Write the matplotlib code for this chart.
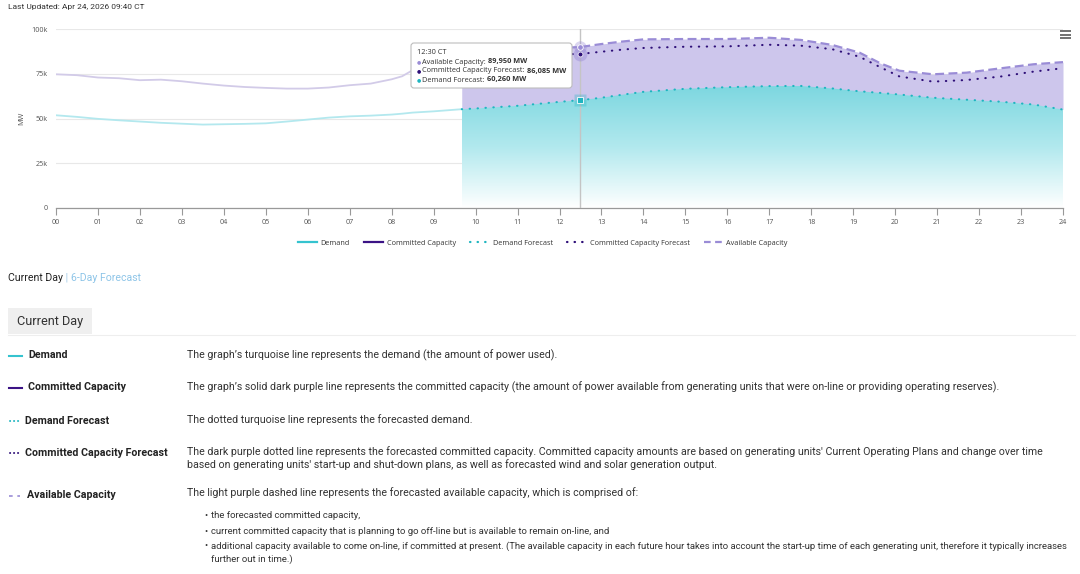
import numpy as np
import matplotlib
matplotlib.use("Agg")
import matplotlib.pyplot as plt
from matplotlib.colors import LinearSegmentedColormap
from matplotlib.lines import Line2D
from matplotlib.patches import FancyBboxPatch, Rectangle

# ---------------- data ----------------
hist_hours = [0, 0.5, 1, 1.5, 2, 2.5, 3, 3.5, 4, 4.5, 5, 5.5, 6, 6.5, 7, 7.5, 8, 8.25, 8.5, 9, 9.67]
hist_demand = [51800, 50900, 49800, 49000, 48300, 47600, 47100, 46600, 46800, 47000, 47300,
               48300, 49400, 50500, 51200, 51600, 52200, 52700, 53300, 54000, 55200]
hist_avail = [74700, 74200, 72900, 72500, 71400, 71700, 70800, 69500, 68400, 67600, 67100,
              66700, 66700, 67300, 68600, 69500, 71900, 73600, 77000, 81000, 85000]

fc_hours = [9.67, 10, 11, 12, 12.5, 13, 13.5, 14, 15, 16, 17, 17.75, 18.5, 19.15, 19.65,
            20.1, 20.9, 21.7, 22.5, 23.3, 24]
fc_avail = [85000, 86000, 88000, 89400, 89950, 91600, 93000, 94200, 94400, 94400, 95100,
            93900, 91100, 86800, 80800, 76700, 74700, 75600, 78000, 80300, 81500]
fc_committed = [83000, 83500, 84800, 85800, 86085, 87300, 88500, 89400, 90100, 90300, 91200,
                90700, 88700, 84500, 78600, 73500, 70600, 71500, 73400, 76200, 78100]
fc_demand = [55200, 55600, 57100, 59300, 60260, 61600, 63300, 64900, 66600, 67500, 68100,
             68200, 66800, 65200, 64300, 63400, 61600, 60500, 59400, 57800, 55000]

hover_hour = 12.5
hover_label = "12:30 CT"
hover_avail = 89950
hover_committed = 86085
hover_demand = 60260

hour_labels = [f"{h:02d}" for h in range(25)]
y_ticks = [0, 25000, 50000, 75000, 100000]
y_labels = ["0", "25k", "50k", "75k", "100k"]

TEAL = "#1fb5c0"
DARK = "#2e0f78"
LAV = "#9a8cd6"
PAGE_FONT = "Roboto"
CHART_FONT = ["Open Sans", "DejaVu Sans"]

fig = plt.figure(figsize=(10.8, 5.74), dpi=100)

# ---------------- chart ----------------
ax = fig.add_axes([56 / 1080, 1 - 208 / 574, 1007 / 1080, 179 / 574])

# purple area between demand forecast and available capacity
ax.fill_between(fc_hours, fc_demand, fc_avail, color="#cdc6ec", lw=0, zorder=1)

# teal gradient area under demand forecast
poly = ax.fill_between(fc_hours, 0, fc_demand, color="none", lw=0)
grad = np.linspace(0, 1, 256).reshape(-1, 1)
cmap = LinearSegmentedColormap.from_list("teal", ["#ffffff", "#b2e9ee", "#7dd7e0"])
im = ax.imshow(grad, extent=[fc_hours[0], fc_hours[-1], 0, 68000], origin="lower",
               aspect="auto", cmap=cmap, zorder=1.5)
im.set_clip_path(poly.get_paths()[0], transform=ax.transData)

# history (drawn faded like an inactive series)
ax.plot(hist_hours, hist_demand, color="#b3e8ee", lw=1.3, zorder=2)
ax.plot(hist_hours, hist_avail, color="#d2cbe8", lw=1.3, zorder=2)

# forecasts
ax.plot(fc_hours, fc_avail, color=LAV, lw=1.6, dashes=(4, 2), zorder=3)
ax.plot(fc_hours, fc_committed, color=DARK, lw=1.5, dashes=(0.2, 3.6),
        dash_capstyle="round", zorder=3)
ax.plot(fc_hours, fc_demand, color=TEAL, lw=1.5, dashes=(0.2, 3.6),
        dash_capstyle="round", zorder=3)

# hover crosshair and markers
ax.axvline(hover_hour, color="#c4c4c4", lw=1, zorder=4)
ax.plot(hover_hour, hover_avail, "o", ms=9, color=LAV, alpha=0.35, mec="none", zorder=5)
ax.plot(hover_hour, hover_avail, "o", ms=4, color=LAV, mec="white", mew=0.6, zorder=6)
ax.plot(hover_hour, hover_committed, "o", ms=10, color=LAV, alpha=0.45, mec="none", zorder=5)
ax.plot(hover_hour, hover_committed, "o", ms=3.5, color=DARK, mec="white", mew=0.5, zorder=6)
ax.plot(hover_hour, hover_demand, "s", ms=8, color=TEAL, alpha=0.3, mec="none", zorder=5)
ax.plot(hover_hour, hover_demand, "s", ms=4, color=TEAL, mec="white", mew=0.6, zorder=6)

ax.set_xlim(0, 24)
ax.set_ylim(0, 100000)
ax.set_xticks(range(25))
ax.set_xticklabels(hour_labels, fontsize=5.2, color="#555555", family=CHART_FONT)
ax.set_yticks(y_ticks)
ax.set_yticklabels(y_labels, fontsize=5.2, color="#555555", family=CHART_FONT)
ax.tick_params(axis="x", length=5, width=0.8, color="#999999", pad=3)
ax.tick_params(axis="y", length=0, pad=6)
ax.grid(axis="y", color="#e8e8e8", lw=0.8, zorder=0)
ax.set_axisbelow(True)
for s in ["top", "right", "left"]:
    ax.spines[s].set_visible(False)
ax.spines["bottom"].set_color("#999999")
ax.spines["bottom"].set_linewidth(0.9)
ax.set_ylabel("MW", fontsize=5.2, color="#555555", family=CHART_FONT, labelpad=4)

# legend under the chart
handles = [
    Line2D([], [], color="#35c3cf", lw=1.6),
    Line2D([], [], color="#3b1385", lw=1.6),
    Line2D([], [], color=TEAL, lw=1.6, dashes=(0.2, 3.2), dash_capstyle="round"),
    Line2D([], [], color=DARK, lw=1.6, dashes=(0.2, 3.2), dash_capstyle="round"),
    Line2D([], [], color=LAV, lw=1.6, dashes=(3, 2)),
]
names = ["Demand", "Committed Capacity", "Demand Forecast",
         "Committed Capacity Forecast", "Available Capacity"]
leg = fig.legend(handles, names, loc="center", bbox_to_anchor=(543 / 1080, 1 - 243 / 574),
                 ncol=5, frameon=False, handlelength=2.6, handletextpad=0.5,
                 columnspacing=2.0, prop={"family": CHART_FONT, "size": 5.2})
for t in leg.get_texts():
    t.set_color("#333333")

# ---------------- overlay in pixel coords ----------------
ov = fig.add_axes([0, 0, 1, 1], zorder=10)
ov.set_xlim(0, 1080)
ov.set_ylim(574, 0)
ov.axis("off")
ov.patch.set_alpha(0)

renderer = fig.canvas.get_renderer()


def runs(x, y, parts, **kw):
    # write text pieces one after another on the same line
    for txt, extra in parts:
        opts = dict(kw)
        opts.update(extra)
        t = ov.text(x, y, txt, va="center", ha="left", **opts)
        bb = t.get_window_extent(renderer)
        x += bb.width


# tooltip
ov.add_patch(FancyBboxPatch((413, 45), 158, 43, boxstyle="round,pad=0,rounding_size=3",
                            fc="#d8d8d8", ec="none", alpha=0.5, zorder=1))
ov.add_patch(FancyBboxPatch((411, 43), 161, 45, boxstyle="round,pad=0,rounding_size=3",
                            fc="white", ec="#bdbdbd", lw=0.8, zorder=2))
tip = dict(family=CHART_FONT, fontsize=5.3, color="#333333", zorder=3)
ov.text(417, 53, hover_label, va="center", **tip)
rows = [("Available Capacity: ", f"{hover_avail:,} MW", LAV),
        ("Committed Capacity Forecast: ", f"{hover_committed:,} MW", DARK),
        ("Demand Forecast: ", f"{hover_demand:,} MW", TEAL)]
for i, (lab, val, col) in enumerate(rows):
    y = 62 + i * 9
    runs(417, y, [("\u25cf ", {"color": col, "fontsize": 3.5}), (lab, {}),
                  (val, {"fontweight": "bold"})], **tip)

# hamburger menu
for yy in [31, 34.5, 38]:
    ov.plot([1060, 1071], [yy, yy], color="#666666", lw=1.3, solid_capstyle="butt")

# page texts
ov.text(8, 7, "Last Updated: Apr 24, 2026 09:40 CT", va="center", family=PAGE_FONT,
        fontsize=6.05, color="#333333")

runs(8, 278, [("Current Day", {"color": "#222222"}), (" | ", {"color": "#9fc9e6"}),
              ("6-Day Forecast", {"color": "#8ec5e8"})], family=PAGE_FONT, fontsize=7.6)

ov.add_patch(Rectangle((8, 308), 84, 26, fc="#efefef", ec="none"))
ov.text(50, 321, "Current Day", ha="center", va="center", family=PAGE_FONT,
        fontsize=9.2, color="#333333")
ov.plot([8, 1075], [334.5, 334.5], color="#eeeeee", lw=0.8)

lab_kw = dict(family=PAGE_FONT, fontsize=7.7, fontweight="bold", color="#222222", va="center")
desc_kw = dict(family=PAGE_FONT, fontsize=7.65, color="#333333", va="center")

# legend icons on the left
ov.plot([9, 22], [355.5, 355.5], color="#35c3cf", lw=1.5)
ov.plot([9, 22], [387.5, 387.5], color="#3b1385", lw=1.5)
ov.plot([10, 19], [420.5, 420.5], color=TEAL, lw=1.4, dashes=(0.1, 1.95), dash_capstyle="round")
ov.plot([10, 19], [452.5, 452.5], color=DARK, lw=1.4, dashes=(0.1, 1.95), dash_capstyle="round")
ov.plot([9, 20], [495.5, 495.5], color=LAV, lw=1.2, dashes=(2.2, 2.8))

ov.text(28, 355.5, "Demand", **lab_kw)
ov.text(28, 387.5, "Committed Capacity", **lab_kw)
ov.text(25, 420.5, "Demand Forecast", **lab_kw)
ov.text(25, 452.5, "Committed Capacity Forecast", **lab_kw)
ov.text(27, 495.5, "Available Capacity", **lab_kw)

ov.text(187, 355, "The graph\u2019s turquoise line represents the demand (the amount of power used).",
        **desc_kw)
ov.text(187, 387, "The graph\u2019s solid dark purple line represents the committed capacity "
        "(the amount of power available from generating units that were on-line or providing "
        "operating reserves).", **desc_kw)
ov.text(187, 420, "The dotted turquoise line represents the forecasted demand.", **desc_kw)
ov.text(187, 452, "The dark purple dotted line represents the forecasted committed capacity. "
        "Committed capacity amounts are based on generating units' Current Operating Plans "
        "and change over time", **desc_kw)
ov.text(187, 464.5, "based on generating units' start-up and shut-down plans, as well as "
        "forecasted wind and solar generation output.", **desc_kw)
ov.text(187, 493, "The light purple dashed line represents the forecasted available capacity, "
        "which is comprised of:", **desc_kw)

bul_kw = dict(family=PAGE_FONT, fontsize=6.8, color="#333333", va="center")
bullets = [
    (516, "the forecasted committed capacity,"),
    (531, "current committed capacity that is planning to go off-line but is available to "
          "remain on-line, and"),
    (546, "additional capacity available to come on-line, if committed at present. (The "
          "available capacity in each future hour takes into account the start-up time of each "
          "generating unit, therefore it typically increases"),
]
for y, txt in bullets:
    ov.text(204, y, "\u2022", **bul_kw)
    ov.text(211, y, txt, **bul_kw)
ov.text(211, 559.5, "further out in time.)", **bul_kw)

fig.savefig("out.png", dpi=100)
